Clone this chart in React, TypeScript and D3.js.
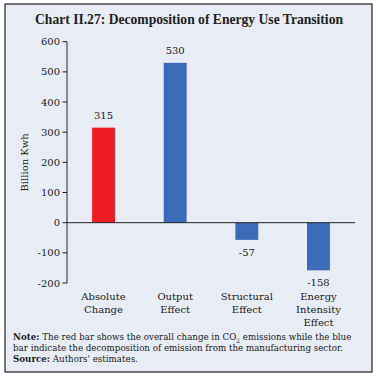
import React from "react";
import * as d3 from "d3";

const categories = [["Absolute", "Change"], ["Output", "Effect"], ["Structural", "Effect"], ["Energy", "Intensity", "Effect"]];
const values = [315, 530, -57, -158];
const colors = ["#ed1c24", "#3c6bb8", "#3c6bb8", "#3c6bb8"];
const yTicks = [-200, -100, 0, 100, 200, 300, 400, 500, 600];

export default function App() {
  const W = 378, H = 377;
  const font = "'DejaVu Serif', serif";
  const x = d3.scaleBand<number>().domain(d3.range(values.length)).range([67, 355]).paddingInner(0.68).paddingOuter(0.35);
  const y = d3.scaleLinear().domain([-200, 600]).range([283, 41.7]);
  const x0 = 67;
  return (
    <svg width={W} height={H} style={{ position: "absolute", left: 0, top: 0 }}>
      <rect x={5} y={4} width={367} height={368} fill="#e8edf5" stroke="#222" strokeWidth={1.2} />
      <text x={189} y={24} textAnchor="middle" fontFamily="'Liberation Serif', serif" fontWeight="bold" fontSize={13.6} fill="#222">Chart II.27: Decomposition of Energy Use Transition</text>
      {values.map((v, i) => (
        <rect key={i} x={x(i)} y={y(Math.max(0, v))} width={x.bandwidth()} height={Math.abs(y(v) - y(0))} fill={colors[i]} />
      ))}
      {values.map((v, i) => (
        <text key={"l" + i} x={x(i)! + x.bandwidth() / 2} y={v >= 0 ? y(v) - 9 : y(v) + 16} textAnchor="middle" fontFamily={font} fontSize={10} fill="#222">{v}</text>
      ))}
      <line x1={x0} x2={x0} y1={y(600)} y2={y(-200)} stroke="#222" strokeWidth={1} />
      <line x1={x0} x2={355} y1={y(0)} y2={y(0)} stroke="#222" strokeWidth={1} />
      {yTicks.map((t) => (
        <g key={t}>
          <line x1={x0 - 4.5} x2={x0} y1={y(t)} y2={y(t)} stroke="#222" />
          <text x={60} y={y(t) + 3.5} textAnchor="end" fontFamily={font} fontSize={10} fill="#222">{t}</text>
        </g>
      ))}
      <text transform={`translate(28,${y(200)}) rotate(-90)`} textAnchor="middle" fontFamily={font} fontSize={10} fill="#222">Billion Kwh</text>
      {categories.map((lines, i) => (
        <text key={"c" + i} x={x(i)! + x.bandwidth() / 2} y={300} textAnchor="middle" fontFamily={font} fontSize={10} fill="#222">
          {lines.map((s, j) => (
            <tspan key={j} x={x(i)! + x.bandwidth() / 2} dy={j === 0 ? 0 : 13}>{s}</tspan>
          ))}
        </text>
      ))}
      <text x={13} y={340} fontFamily={font} fontSize={8.7} fill="#222">
        <tspan fontWeight="bold">Note:</tspan> The red bar shows the overall change in CO<tspan fontSize={6} dy={3}>2</tspan><tspan dy={-3}> emissions while the blue</tspan>
      </text>
      <text x={13} y={351} fontFamily={font} fontSize={8.7} fill="#222">bar indicate the decomposition of emission from the manufacturing sector.</text>
      <text x={13} y={362} fontFamily={font} fontSize={8.7} fill="#222"><tspan fontWeight="bold">Source:</tspan> Authors' estimates.</text>
    </svg>
  );
}
